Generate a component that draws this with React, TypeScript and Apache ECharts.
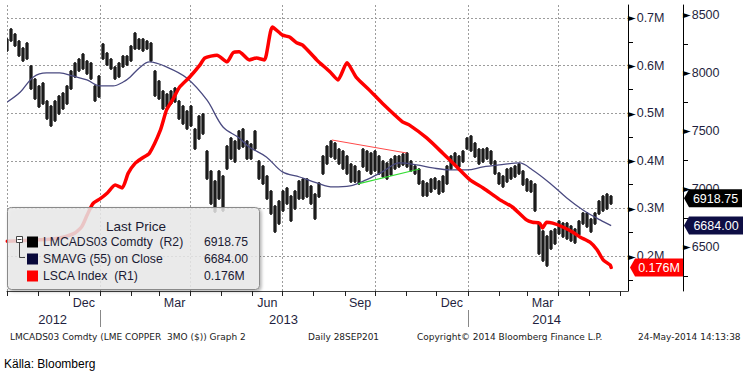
import React, { useEffect, useRef } from "react";
import * as echarts from "echarts";

const MONTHS = ["Jan", "Feb", "Mar", "Apr", "May", "Jun", "Jul", "Aug", "Sep", "Oct", "Nov", "Dec"];

// LMCADS03 price bars (high / low), sampled evenly from first to last date
const PRICE_FIRST = [2012, 8, 30, 18];
const PRICE_LAST = [2014, 4, 22, 20];
const PRICE_HIGH = [
  8302, 8388, 8345, 8284, 8224, 8267, 8069, 7957, 7897, 7922,
  7767, 7724, 7767, 7810, 7836, 7897, 8026, 8095, 8129, 8172,
  8112, 8095, 7897, 7983, 8259, 8181, 8129, 8060, 8095, 8155,
  8155, 8241, 8353, 8302, 8302, 8284, 8267, 8026, 7940, 7853,
  7828, 7853, 7879, 7767, 7724, 7681, 7724, 7526, 7638, 7655,
  7336, 7164, 7078, 7164, 7121, 7379, 7448, 7422, 7509, 7526,
  7422, 7397, 7509, 7250, 7207, 7121, 6991, 6862, 6905, 6991,
  7017, 6948, 6991, 7078, 7095, 7095, 7034, 6965, 7060, 7293,
  7379, 7422, 7405, 7353, 7336, 7293, 7224, 7207, 7164, 7353,
  7336, 7319, 7336, 7293, 7250, 7233, 7267, 7293, 7293, 7310,
  7319, 7250, 7207, 7181, 7078, 7060, 7095, 7103, 7078, 7121,
  7207, 7293, 7319, 7293, 7336, 7448, 7466, 7405, 7353, 7353,
  7362, 7336, 7250, 7147, 7121, 7181, 7190, 7207, 7224, 7164,
  7095, 7078, 7052, 6715, 6647, 6603, 6647, 6664, 6733, 6715,
  6715, 6690, 6664, 6733, 6802, 6802, 6750, 6802, 6905, 6948,
  6965, 6948,
];
const PRICE_LOW = [
  8181, 8267, 8224, 8138, 8095, 8112, 7853, 7767, 7698, 7724,
  7595, 7534, 7578, 7638, 7681, 7724, 7853, 7957, 8009, 8026,
  7983, 7940, 7750, 7784, 8112, 8060, 8026, 7940, 7957, 8043,
  8060, 8095, 8198, 8198, 8181, 8198, 8095, 7793, 7767, 7681,
  7698, 7724, 7741, 7595, 7552, 7509, 7534, 7336, 7422, 7466,
  7078, 6862, 6793, 6905, 6802, 7164, 7250, 7224, 7336, 7353,
  7250, 7250, 7336, 7078, 7034, 6905, 6776, 6621, 6690, 6802,
  6862, 6715, 6819, 6905, 6905, 6922, 6862, 6733, 6922, 7121,
  7207, 7267, 7250, 7207, 7164, 7121, 7052, 7052, 7034, 7181,
  7147, 7121, 7147, 7121, 7095, 7078, 7112, 7164, 7181, 7198,
  7181, 7147, 7121, 7034, 6931, 6931, 6965, 6991, 6948, 6965,
  7034, 7164, 7207, 7181, 7224, 7336, 7319, 7267, 7207, 7224,
  7250, 7207, 7121, 7034, 7009, 7052, 7078, 7095, 7121, 7026,
  6974, 6965, 6802, 6431, 6371, 6328, 6474, 6517, 6603, 6578,
  6560, 6543, 6526, 6595, 6690, 6664, 6621, 6690, 6776, 6802,
  6819, 6862,
];

const SMA_DATES = [
  "2012-10-01", "2012-10-14", "2012-10-27", "2012-11-09", "2012-11-22", "2012-12-05", "2012-12-19",
  "2013-01-01", "2013-01-14", "2013-01-24", "2013-01-31", "2013-02-09", "2013-02-19", "2013-03-08",
  "2013-03-28", "2013-04-17", "2013-05-03", "2013-05-19", "2013-05-29", "2013-06-15", "2013-07-01",
  "2013-07-18", "2013-08-04", "2013-08-20", "2013-09-06", "2013-09-22", "2013-10-08", "2013-10-25",
  "2013-11-11", "2013-11-27", "2013-12-14", "2013-12-31", "2014-01-16", "2014-02-01", "2014-02-21",
  "2014-03-06", "2014-03-23", "2014-04-09", "2014-04-25", "2014-05-12", "2014-05-23",
];
const SMA_VALUES = [
  7750, 7836, 7966, 8000, 8000, 7974, 7940,
  7888, 7888, 7922, 7966, 8043, 8095, 8052,
  7957, 7767, 7534, 7440, 7362, 7276, 7147,
  7103, 7052, 7017, 7026, 7078, 7147, 7224,
  7207, 7181, 7164, 7164, 7190, 7207, 7224,
  7164, 7052, 6922, 6819, 6733, 6684,
];

const LSCA_DATES = [
  "2012-10-01", "2012-11-02", "2012-11-22", "2012-12-07", "2012-12-14", "2012-12-19", "2012-12-25",
  "2013-01-01", "2013-01-08", "2013-01-16", "2013-01-23", "2013-01-29", "2013-02-05", "2013-02-12",
  "2013-02-19", "2013-03-02", "2013-03-08", "2013-03-14", "2013-03-21", "2013-03-31", "2013-04-10",
  "2013-04-15", "2013-04-27", "2013-05-07", "2013-05-13", "2013-05-19", "2013-05-29", "2013-06-05",
  "2013-06-13", "2013-06-21", "2013-07-01", "2013-07-08", "2013-07-15", "2013-07-21", "2013-08-04",
  "2013-08-17", "2013-08-25", "2013-09-03", "2013-09-12", "2013-09-25", "2013-10-08", "2013-10-28",
  "2013-11-04", "2013-11-21", "2013-12-07", "2013-12-21", "2014-01-03", "2014-01-16", "2014-02-01",
  "2014-02-14", "2014-02-28", "2014-03-06", "2014-03-13", "2014-03-16", "2014-03-20", "2014-03-26",
  "2014-04-05", "2014-04-15", "2014-04-22", "2014-05-02", "2014-05-09", "2014-05-15", "2014-05-22",
  "2014-05-23",
];
const LSCA_VALUES = [
  0.231, 0.234, 0.238, 0.248, 0.262, 0.285, 0.310,
  0.320, 0.332, 0.349, 0.343, 0.374, 0.395, 0.406,
  0.416, 0.465, 0.507, 0.528, 0.555, 0.576, 0.601,
  0.616, 0.622, 0.608, 0.627, 0.629, 0.612, 0.616,
  0.612, 0.681, 0.664, 0.660, 0.648, 0.643, 0.612,
  0.587, 0.570, 0.606, 0.576, 0.549, 0.521, 0.482,
  0.475, 0.448, 0.416, 0.387, 0.360, 0.343, 0.319,
  0.303, 0.276, 0.271, 0.269, 0.259, 0.271, 0.269,
  0.261, 0.250, 0.240, 0.229, 0.213, 0.192, 0.181,
  0.176,
];

const TREND_RED_DATES = ["2013-08-19", "2013-11-01"];
const TREND_RED_VALUES = [7422, 7310];
const TREND_GREEN_DATES = ["2013-09-14", "2013-11-14"];
const TREND_GREEN_VALUES = [7043, 7172];

const LAST_PRICE = 6918.75;
const LAST_SMA = 6684.0;
const LAST_LSCA = 0.176;

const R1_MIN = 0.1265;
const R1_MAX = 0.7273;
const R2_MIN = 6120;
const R2_MAX = 8586;
const R1_TICKS = [0.2, 0.3, 0.4, 0.5, 0.6, 0.7];
const R1_MINOR = [0.15, 0.25, 0.35, 0.45, 0.55, 0.65];
const R2_TICKS = [6500, 7000, 7500, 8000, 8500];
const R2_MINOR = [6250, 6750, 7250, 7750, 8250];

const MONTH_STARTS = [
  "2012-10-01", "2012-11-01", "2012-12-01", "2013-01-01", "2013-02-01", "2013-03-01", "2013-04-01",
  "2013-05-01", "2013-06-01", "2013-07-01", "2013-08-01", "2013-09-01", "2013-10-01", "2013-11-01",
  "2013-12-01", "2014-01-01", "2014-02-01", "2014-03-01", "2014-04-01", "2014-05-01", "2014-06-01",
];
const QUARTER_STARTS = ["2012-10-01", "2013-01-01", "2013-04-01", "2013-07-01", "2013-10-01", "2014-01-01", "2014-04-01"];
const MONTH_LABEL_DATES = ["2012-12-16", "2013-03-16", "2013-06-16", "2013-09-16", "2013-12-16", "2014-03-16"];
const YEAR_BREAKS = ["2013-01-01", "2014-01-01"];
const YEAR_LABEL_DATES = ["2012-11-15", "2013-07-02", "2014-03-20"];

const ts = (s: string) => {
  const [y, m, d] = s.split("-").map(Number);
  return new Date(y, m - 1, d).getTime();
};

const FONT = "Liberation Sans";
const LABEL_COLOR = "#1f1f40";
const GRID_COLOR = "#9c9c9c";

export default function App() {
  const ref = useRef<HTMLDivElement>(null);

  useEffect(() => {
    const chart = echarts.init(ref.current!, null, { renderer: "svg" });

    const xMin = new Date(2012, 8, 30, 18).getTime();
    const xMax = new Date(2014, 5, 8, 17).getTime();
    const t0 = new Date(PRICE_FIRST[0], PRICE_FIRST[1], PRICE_FIRST[2], PRICE_FIRST[3]).getTime();
    const t1 = new Date(PRICE_LAST[0], PRICE_LAST[1], PRICE_LAST[2], PRICE_LAST[3]).getTime();
    const n = PRICE_HIGH.length;
    const priceData = PRICE_HIGH.map((h, i) => [t0 + ((t1 - t0) * i) / (n - 1), h, PRICE_LOW[i]]);
    const smaData = SMA_DATES.map((d, i) => [ts(d), SMA_VALUES[i]]);
    const lscaData = LSCA_DATES.map((d, i) => [ts(d), LSCA_VALUES[i]]);

    const tri = { fontSize: 10, color: "#000", fontFamily: "DejaVu Sans", padding: [0, 1, 0, 0] };
    const val = { fontSize: 12.5, color: LABEL_COLOR, fontFamily: FONT };
    const gridSplit = { show: true, lineStyle: { color: GRID_COLOR, width: 1, type: [2, 2] } };

    const option: any = {
      animation: false,
      backgroundColor: "#ffffff",
      textStyle: { fontFamily: FONT },
      grid: { left: 7, right: 120, top: 5, bottom: 84 },
      xAxis: [
        {
          type: "value",
          min: xMin,
          max: xMax,
          position: "bottom",
          axisLine: { show: true, onZero: false, lineStyle: { color: "#444", width: 1 } },
          axisTick: { show: true, customValues: MONTH_STARTS.map(ts), length: 5, lineStyle: { color: "#222" } },
          axisLabel: {
            show: true,
            customValues: MONTH_LABEL_DATES.map(ts),
            formatter: (v: number) => MONTHS[new Date(v).getMonth()],
            margin: 5,
            fontSize: 12.5,
            color: LABEL_COLOR,
            fontFamily: FONT,
          },
          splitLine: { show: false },
        },
        {
          type: "value",
          min: xMin,
          max: xMax,
          position: "bottom",
          offset: 19,
          axisLine: { show: false, onZero: false },
          axisTick: { show: true, customValues: YEAR_BREAKS.map(ts), length: 17, lineStyle: { color: "#888" } },
          axisLabel: {
            show: true,
            customValues: YEAR_LABEL_DATES.map(ts),
            formatter: (v: number) => String(new Date(v).getFullYear()),
            margin: 3,
            fontSize: 13,
            color: LABEL_COLOR,
            fontFamily: FONT,
          },
          splitLine: { show: false },
        },
        {
          // vertical dotted grid lines at quarter starts
          type: "value",
          min: xMin,
          max: xMax,
          position: "top",
          axisLine: { show: false, onZero: false },
          axisTick: { show: false, customValues: QUARTER_STARTS.map(ts) },
          axisLabel: { show: false },
          splitLine: gridSplit,
        },
      ],
      yAxis: [
        {
          type: "value",
          position: "right",
          min: R1_MIN,
          max: R1_MAX,
          axisLine: { show: true, onZero: false, lineStyle: { color: "#000", width: 1 } },
          axisTick: { show: true, customValues: R1_MINOR, length: 5, lineStyle: { color: "#000" } },
          axisLabel: {
            show: true,
            customValues: R1_TICKS,
            margin: 0,
            formatter: (v: number) => `{t|►}{v|${v.toFixed(1)}M}`,
            rich: { t: tri, v: val },
          },
          splitLine: { show: false },
        },
        {
          type: "value",
          position: "right",
          offset: 55,
          min: R2_MIN,
          max: R2_MAX,
          axisLine: { show: true, onZero: false, lineStyle: { color: "#000", width: 1 } },
          axisTick: { show: true, customValues: R2_MINOR, length: 5, lineStyle: { color: "#000" } },
          axisLabel: {
            show: true,
            customValues: R2_TICKS,
            margin: 0,
            formatter: (v: number) => `{t|►}{v|${v}}`,
            rich: { t: tri, v: val },
          },
          splitLine: { show: false },
        },
        {
          // horizontal dotted grid lines at the R1 major ticks
          type: "value",
          position: "left",
          min: R1_MIN,
          max: R1_MAX,
          axisLine: { show: false, onZero: false },
          axisTick: { show: false, customValues: R1_TICKS },
          axisLabel: { show: false },
          splitLine: gridSplit,
        },
      ],
      series: [
        {
          type: "custom",
          name: "LMCADS03 Comdty",
          xAxisIndex: 0,
          yAxisIndex: 1,
          z: 5,
          silent: true,
          clip: true,
          data: priceData,
          encode: { x: 0, y: [1, 2] },
          renderItem: (_p: any, api: any) => {
            const t = api.value(0);
            const a = api.coord([t, api.value(1)]);
            const b = api.coord([t, api.value(2)]);
            return {
              type: "group",
              children: [
                {
                  type: "rect",
                  shape: { x: a[0] - 2, y: a[1] + 1, width: 4, height: Math.max(b[1] - a[1] - 2, 1) },
                  style: { fill: "#6e6e6e" },
                },
                {
                  type: "line",
                  shape: { x1: a[0], y1: a[1], x2: b[0], y2: b[1] },
                  style: { stroke: "#000", lineWidth: 1.5 },
                },
              ],
            };
          },
        },
        {
          type: "line",
          name: "SMAVG (55) on Close",
          xAxisIndex: 0,
          yAxisIndex: 1,
          z: 6,
          data: smaData,
          symbol: "none",
          smooth: 0.35,
          silent: true,
          lineStyle: { color: "#4a4a80", width: 1.3 },
        },
        {
          type: "line",
          name: "trendRed",
          xAxisIndex: 0,
          yAxisIndex: 1,
          z: 6,
          data: TREND_RED_DATES.map((d, i) => [ts(d), TREND_RED_VALUES[i]]),
          symbol: "none",
          silent: true,
          lineStyle: { color: "#ff4a4a", width: 1 },
        },
        {
          type: "line",
          name: "trendGreen",
          xAxisIndex: 0,
          yAxisIndex: 1,
          z: 6,
          data: TREND_GREEN_DATES.map((d, i) => [ts(d), TREND_GREEN_VALUES[i]]),
          symbol: "none",
          silent: true,
          lineStyle: { color: "#33dd33", width: 1.2 },
        },
        {
          type: "line",
          name: "LSCA Index",
          xAxisIndex: 0,
          yAxisIndex: 0,
          z: 7,
          data: lscaData,
          symbol: "none",
          smooth: 0.2,
          silent: true,
          lineStyle: { color: "#ff0000", width: 3.5, cap: "round", join: "round" },
        },
      ],
    };

    chart.setOption(option);

    const yPrice = chart.convertToPixel({ yAxisIndex: 1 }, LAST_PRICE) as number;
    const ySma = chart.convertToPixel({ yAxisIndex: 1 }, LAST_SMA) as number;
    const yLsca = chart.convertToPixel({ yAxisIndex: 0 }, LAST_LSCA) as number;

    const text = (x: number, y: number, t: string, size: number, color: string, family = FONT, align = "left") => ({
      type: "text",
      x,
      y,
      z: 120,
      silent: true,
      style: { text: t, fill: color, fontSize: size, fontFamily: family, textAlign: align, textVerticalAlign: "middle" },
    });
    const tag = (xl: number, xr: number, y: number, fill: string, label: string) => [
      {
        type: "polygon",
        z: 115,
        silent: true,
        shape: { points: [[xl, y], [xl + 5, y - 9], [xr, y - 9], [xr, y + 9], [xl + 5, y + 9]] },
        style: { fill },
      },
      text((xl + 5 + xr) / 2, y + 0.5, label, 12.5, "#ffffff", FONT, "center"),
    ];

    const graphic: any[] = [
      {
        type: "rect",
        z: 100,
        silent: true,
        shape: { x: 7.5, y: 207.5, width: 252, height: 82, r: 4 },
        style: {
          fill: "rgba(238,238,238,0.8)",
          stroke: "#8a8a8a",
          lineWidth: 1,
          shadowBlur: 3,
          shadowOffsetX: 1.5,
          shadowOffsetY: 1.5,
          shadowColor: "rgba(0,0,0,0.35)",
        },
      },
      text(106, 226, "Last Price", 13.5, "#1a1a33"),
      { type: "rect", z: 110, silent: true, shape: { x: 27, y: 236.5, width: 11, height: 11 }, style: { fill: "#000000" } },
      { type: "rect", z: 110, silent: true, shape: { x: 27, y: 253.5, width: 11, height: 11 }, style: { fill: "#08083a" } },
      { type: "rect", z: 110, silent: true, shape: { x: 27, y: 270.5, width: 11, height: 11 }, style: { fill: "#ff0000" } },
      {
        type: "rect",
        z: 110,
        silent: true,
        shape: { x: 16.5, y: 236.5, width: 6, height: 6 },
        style: { fill: "#ffffff", stroke: "#444", lineWidth: 1 },
      },
      { type: "line", z: 111, silent: true, shape: { x1: 17.5, y1: 239.5, x2: 21.5, y2: 239.5 }, style: { stroke: "#444", lineWidth: 1 } },
      {
        type: "polyline",
        z: 110,
        silent: true,
        shape: { points: [[19.5, 242.5], [19.5, 257.5], [25, 257.5]] },
        style: { stroke: "#444", lineWidth: 1, fill: "none" },
      },
      text(43, 242, "LMCADS03 Comdty  (R2)", 12.2, "#1a1a33"),
      text(43, 259, "SMAVG (55) on Close", 12.2, "#1a1a33"),
      text(43, 276, "LSCA Index  (R1)", 12.2, "#1a1a33"),
      text(204, 242, LAST_PRICE.toFixed(2), 12.2, "#1a1a33"),
      text(204, 259, LAST_SMA.toFixed(2), 12.2, "#1a1a33"),
      text(204, 276, `${LAST_LSCA.toFixed(3)}M`, 12.2, "#1a1a33"),
      ...tag(684, 742, yPrice, "#000000", LAST_PRICE.toFixed(2)),
      ...tag(684, 743, ySma, "#0e0e44", LAST_SMA.toFixed(2)),
      ...tag(630, 683, yLsca, "#ff0000", `${LAST_LSCA.toFixed(3)}M`),
      text(10, 337, "LMCADS03 Comdty (LME COPPER", 9, "#222", "DejaVu Sans"),
      text(167, 337, "3MO ($)) Graph 2", 9, "#222", "DejaVu Sans"),
      text(308, 337, "Daily 28SEP201", 9, "#222", "DejaVu Sans"),
      text(417, 337, "Copyright© 2014 Bloomberg Finance L.P.", 9, "#222", "DejaVu Sans"),
      text(638, 337, "24-May-2014 14:13:38", 9, "#222", "DejaVu Sans"),
      text(4, 364, "Källa: Bloomberg", 12, "#000", FONT),
    ];

    chart.setOption({ graphic });

    return () => chart.dispose();
  }, []);

  return (
    <div
      ref={ref}
      style={{ position: "absolute", left: 0, top: 0, width: 748, height: 375, background: "#ffffff" }}
    />
  );
}
